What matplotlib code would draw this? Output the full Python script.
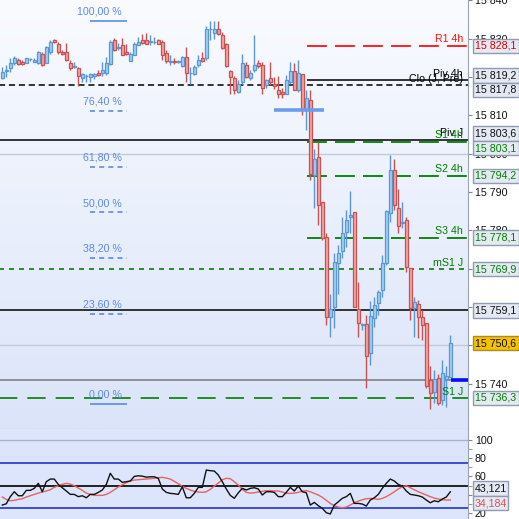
import numpy as np
import matplotlib.pyplot as plt
import matplotlib.transforms as mtransforms
from matplotlib.colors import LinearSegmentedColormap
from matplotlib.patches import Rectangle
from matplotlib.ticker import FuncFormatter, FixedLocator

plt.rcParams['font.family'] = ['Liberation Sans', 'DejaVu Sans']

# --- candles (open, high, low, close) ---
opens = [15819.8, 15821.5, 15822.2, 15823.5, 15824.3, 15824.0, 15823.7, 15824.6, 15824.0, 15823.5,
         15826.1, 15823.7, 15826.5, 15829.7, 15828.7, 15826.5, 15826.5, 15823.7, 15822.6, 15822.2,
         15819.8, 15820.2, 15820.0, 15820.2, 15821.1, 15821.0, 15821.1, 15823.3, 15829.7, 15827.6,
         15828.2, 15826.5, 15824.1, 15825.8, 15828.2, 15829.7, 15829.7, 15829.1, 15829.0, 15829.7,
         15829.1, 15826.3, 15823.9, 15824.1, 15823.9, 15822.8, 15825.2, 15820.9, 15820.7, 15823.0,
         15824.8, 15824.8, 15832.4, 15831.5, 15832.6, 15830.8, 15828.7, 15821.5, 15819.8, 15816.1,
         15818.7, 15823.2, 15819.7, 15821.7, 15823.7, 15823.2, 15817.8, 15819.8, 15818.1, 15816.7,
         15816.1, 15815.6, 15818.7, 15821.5, 15816.5, 15820.7, 15811.7, 15814.1, 15794.4, 15799.1,
         15787.3, 15778.2, 15757.3, 15759.9, 15771.4, 15774.7, 15779.6, 15783.4, 15784.7, 15759.5,
         15755.3, 15755.6, 15747.9, 15757.1, 15761.0, 15764.4, 15771.4, 15784.4, 15795.7, 15785.9,
         15781.8, 15782.7, 15770.1, 15759.7, 15760.8, 15757.5, 15755.8, 15741.0, 15737.9, 15741.6,
         15735.8, 15741.2, 15741.7]
highs = [15822.6, 15823.0, 15824.8, 15825.4, 15824.8, 15824.5, 15825.0, 15825.0, 15824.8, 15826.8,
         15826.5, 15828.0, 15829.5, 15830.0, 15829.1, 15826.9, 15828.8, 15824.3, 15823.9, 15822.6,
         15820.9, 15820.7, 15820.9, 15820.9, 15821.7, 15823.9, 15825.2, 15829.5, 15830.1, 15828.8,
         15830.2, 15828.7, 15826.5, 15829.1, 15830.4, 15831.1, 15831.4, 15830.8, 15830.4, 15830.0,
         15829.7, 15826.9, 15825.6, 15824.8, 15824.3, 15825.4, 15827.8, 15822.6, 15823.0, 15825.6,
         15826.5, 15833.4, 15834.7, 15834.6, 15834.7, 15831.7, 15828.8, 15821.7, 15820.2, 15819.1,
         15825.9, 15823.9, 15821.7, 15830.8, 15824.3, 15823.9, 15819.5, 15823.9, 15820.0, 15820.2,
         15817.2, 15820.4, 15823.9, 15823.5, 15824.3, 15820.7, 15816.5, 15816.5, 15801.1, 15803.0,
         15787.3, 15779.2, 15763.4, 15774.0, 15776.1, 15783.5, 15785.3, 15790.2, 15784.7, 15766.4,
         15755.8, 15757.9, 15761.6, 15762.7, 15764.4, 15773.5, 15785.3, 15799.6, 15798.7, 15790.9,
         15787.4, 15783.5, 15770.1, 15762.7, 15761.8, 15759.2, 15755.8, 15744.5, 15743.6, 15742.6,
         15746.2, 15744.5, 15752.7]
lows = [15819.5, 15820.0, 15821.3, 15823.0, 15823.0, 15823.0, 15823.7, 15824.1, 15823.9, 15823.3,
        15822.8, 15823.5, 15826.1, 15828.8, 15826.1, 15825.6, 15824.1, 15821.7, 15822.2, 15817.6,
        15818.7, 15818.7, 15818.7, 15819.5, 15820.2, 15820.2, 15820.4, 15823.0, 15826.7, 15826.9,
        15825.6, 15825.6, 15824.1, 15825.6, 15828.2, 15828.7, 15828.7, 15828.2, 15828.7, 15828.5,
        15824.3, 15823.5, 15823.0, 15823.3, 15823.5, 15822.6, 15818.7, 15818.2, 15820.4, 15822.6,
        15823.9, 15824.5, 15829.5, 15829.8, 15830.8, 15827.4, 15822.6, 15815.5, 15815.5, 15815.8,
        15818.2, 15819.8, 15819.3, 15821.3, 15822.2, 15815.6, 15817.2, 15817.8, 15816.9, 15814.6,
        15814.6, 15815.5, 15818.2, 15816.5, 15816.1, 15810.0, 15806.1, 15793.1, 15785.7, 15781.4,
        15777.4, 15755.3, 15752.3, 15754.5, 15763.4, 15772.7, 15775.7, 15779.2, 15759.9, 15752.3,
        15754.0, 15739.0, 15744.9, 15754.9, 15758.0, 15762.6, 15771.0, 15782.2, 15785.3, 15779.3,
        15780.5, 15769.2, 15756.6, 15752.3, 15751.9, 15751.4, 15738.9, 15733.4, 15734.9, 15734.5,
        15734.5, 15734.0, 15741.7]
closes = [15821.3, 15821.7, 15823.7, 15824.8, 15823.3, 15823.3, 15824.8, 15824.6, 15824.5, 15826.5,
          15823.2, 15827.8, 15829.1, 15829.1, 15826.5, 15826.1, 15824.3, 15822.2, 15822.6, 15820.2,
          15820.7, 15820.2, 15820.7, 15820.7, 15820.6, 15821.7, 15823.7, 15829.1, 15827.1, 15827.8,
          15825.8, 15825.9, 15826.1, 15828.7, 15829.1, 15828.8, 15828.7, 15829.1, 15829.2, 15828.7,
          15825.8, 15824.1, 15823.9, 15823.9, 15824.0, 15825.2, 15821.1, 15821.0, 15822.6, 15824.3,
          15824.1, 15832.6, 15832.4, 15832.6, 15831.3, 15827.6, 15822.8, 15820.0, 15816.7, 15818.2,
          15823.7, 15820.0, 15821.1, 15823.2, 15822.8, 15817.2, 15819.3, 15818.7, 15817.6, 15815.6,
          15815.6, 15819.3, 15821.5, 15816.7, 15821.1, 15811.6, 15814.6, 15794.8, 15798.7, 15786.7,
          15778.0, 15757.3, 15759.5, 15771.8, 15774.2, 15779.2, 15782.8, 15784.1, 15759.9, 15755.8,
          15755.3, 15747.3, 15757.7, 15760.5, 15764.0, 15771.4, 15785.0, 15795.7, 15786.6, 15781.1,
          15782.2, 15770.5, 15759.7, 15761.2, 15757.5, 15755.3, 15739.4, 15737.7, 15741.2, 15735.1,
          15742.9, 15742.0, 15750.6]

# --- RSI and its signal line ---
rsi = [28.6, 30.0, 37.8, 43.2, 38.8, 38.8, 44.7, 44.7, 46.9, 52.4,
       43.2, 54.2, 57.1, 57.1, 51.2, 47.6, 44.0, 40.3, 40.3, 37.8,
       38.8, 36.6, 40.3, 40.3, 42.5, 45.1, 51.2, 63.4, 57.1, 57.1,
       53.5, 54.2, 55.0, 60.0, 60.7, 60.3, 59.2, 59.6, 59.6, 57.9,
       46.2, 42.5, 41.4, 41.0, 40.3, 48.7, 36.6, 36.6, 41.4, 48.0,
       48.0, 67.0, 66.3, 65.9, 61.5, 54.2, 46.2, 39.2, 36.0, 42.0,
       46.9, 45.1, 46.9, 47.6, 46.2, 39.6, 43.2, 43.2, 42.5, 37.8,
       37.8, 42.5, 48.0, 44.0, 49.4, 43.2, 42.1, 28.6, 31.5, 27.9,
       25.0, 20.2, 18.8, 28.6, 32.2, 36.0, 37.8, 41.4, 30.4, 30.4,
       29.7, 27.5, 34.1, 36.6, 40.3, 46.9, 52.4, 57.1, 55.0, 51.2,
       49.4, 44.0, 40.3, 39.6, 38.8, 37.4, 34.1, 31.1, 33.3, 32.2,
       35.2, 37.4, 43.121]
rsi_signal = [37.4, 34.8, 33.3, 33.7, 34.8, 35.5, 37.4, 38.8, 40.3, 41.7,
              42.9, 44.0, 45.4, 48.0, 49.8, 51.3, 52.4, 51.6, 49.8, 47.3,
              44.7, 41.7, 40.3, 39.2, 39.2, 39.2, 40.3, 42.5, 45.4, 48.4,
              50.9, 53.1, 55.0, 56.0, 56.4, 56.8, 57.1, 57.5, 57.9, 58.6,
              59.0, 58.2, 57.1, 54.6, 52.0, 49.1, 46.9, 45.1, 43.6, 42.9,
              42.5, 43.2, 45.8, 49.4, 52.7, 56.4, 57.9, 57.5, 54.2, 50.5,
              45.8, 42.5, 41.7, 42.1, 42.9, 43.6, 44.4, 44.4, 44.0, 44.0,
              42.9, 41.4, 41.4, 41.7, 42.5, 44.0, 44.4, 43.2, 41.4, 39.6,
              37.1, 33.8, 30.4, 27.9, 26.4, 25.7, 26.4, 28.6, 31.1, 33.0,
              34.4, 35.5, 35.9, 35.5, 34.8, 35.9, 37.8, 40.3, 43.2, 46.2,
              48.7, 49.8, 47.6, 45.4, 43.2, 41.4, 39.6, 37.8, 36.3, 35.2,
              34.4, 34.1, 34.184]
rsi_levels = [75, 50, 25]

# --- pivot / support / resistance levels ---
level_names = ["R1 4h", "Piv 4h", "Clo (J, Pré)", "Piv J", "S1 4h", "S2 4h", "S3 4h", "mS1 J", "", "S1 J"]
level_values = [15828.1, 15819.2, 15817.8, 15803.6, 15803.1, 15794.2, 15778.1, 15769.9, 15759.1, 15736.3]
last_price = 15750.6
marker_level = 15741.0
fib_high = 15834.7
fib_low = 15734.7
fib_pcts = [100.0, 76.4, 61.8, 50.0, 38.2, 23.6, 0.0]
grid_levels = [15750, 15800]
price_ticks = [15740, 15750, 15760, 15770, 15780, 15790, 15800, 15810, 15820, 15830, 15840]

W = 519.0
PLOT_W = 468.0
PX_PER_PT = 3.84      # price axis: pixels per point
PX_PER_RSI = 0.912    # rsi axis: pixels per unit
X0 = 2.3              # pixel centre of first candle
STEP = 4.0            # pixels between candles
BOX_PX = 14.5
FS = 7.7


def k_of(px):
    return (px - X0) / STEP


def fmt_price(v, pos=None):
    return f"{int(round(v)):,}".replace(",", " ")


def fmt_value(v):
    return f"{v:,.1f}".replace(",", " ").replace(".", ",")


def spread(values, h):
    """Schiebt zu nahe Boxen auseinander (wie im Original)."""
    vals = np.array(values, dtype=float)
    order = np.argsort(-vals)
    pos = vals[order].copy()
    for _ in range(10):
        for i in range(len(pos) - 1):
            if pos[i] - pos[i + 1] < h:
                mid = (pos[i] + pos[i + 1]) / 2
                pos[i], pos[i + 1] = mid + h / 2, mid - h / 2
    out = np.empty_like(pos)
    out[order] = pos
    return out


def setup_axes(fig):
    ax = fig.add_axes([0, 90 / W, PLOT_W / W, 429 / W])
    ax2 = fig.add_axes([0, 0, PLOT_W / W, 90 / W])
    for a in (ax, ax2):
        for s in ("top", "left"):
            a.spines[s].set_visible(False)
        a.spines["right"].set_color("#9aa3b2")
        a.set_xticks([])
        a.yaxis.tick_right()
        a.tick_params(axis="y", direction="out", length=3, width=0.8,
                      color="#7f8898", labelsize=FS, pad=2, labelcolor="#111111")
    ax.spines["bottom"].set_color("#a9b4c6")
    ax2.spines["bottom"].set_visible(False)
    return ax, ax2


def draw_background(ax, top, bottom):
    cmap = LinearSegmentedColormap.from_list("bg", [top, bottom])
    ax.imshow(np.linspace(0, 1, 256).reshape(-1, 1), cmap=cmap, aspect="auto",
              extent=[0, 1, 0, 1], transform=ax.transAxes, zorder=0)


def draw_candles(ax):
    x = np.arange(len(opens))
    o, h, l, c = map(np.array, (opens, highs, lows, closes))
    up = c >= o
    wick = np.where(up, "#5b97d3", "#c95252")
    face = np.where(up, "#9fd0f5", "#f7a3a3")
    ax.vlines(x, l, h, colors=wick, lw=1.0, zorder=3)
    body = np.maximum(np.abs(c - o), 0.15)
    ax.bar(x, body, bottom=np.minimum(o, c), width=0.88, color=face,
           edgecolor=wick, lw=0.9, zorder=4)


def draw_levels(ax):
    end = k_of(PLOT_W) + 1
    start4h = k_of(306.7)
    long_dash = (0, (11, 4.5))
    styles = {
        "R1 4h": ("#ff1010", long_dash, start4h, 1.3),
        "Piv 4h": ("#000000", "-", start4h, 1.1),
        "Clo (J, Pré)": ("#000000", (0, (4, 2.5)), -1, 1.1),
        "Piv J": ("#000000", "-", -1, 1.1),
        "S1 4h": ("#008000", long_dash, start4h, 1.3),
        "S2 4h": ("#008000", long_dash, start4h, 1.3),
        "S3 4h": ("#008000", long_dash, start4h, 1.3),
        "mS1 J": ("#008000", (0, (3, 3)), -1, 1.2),
        "": ("#000000", "-", -1, 1.1),
        "S1 J": ("#008000", (0, (11, 6)), -1, 1.2),
    }
    for gl in grid_levels:
        ax.hlines(gl, -1, end, color="#c3cad8", lw=1.0, zorder=1)
    ax.hlines(marker_level, -1, end, color="#8a8a8a", lw=1.3, zorder=2)
    ax.hlines(marker_level, k_of(451), end, color="#0010ff", lw=2.6, zorder=5)
    lab_x = k_of(463)
    for name, val in zip(level_names, level_values):
        color, ls, x0, lw = styles[name]
        ax.hlines(val, x0, end, color=color, linestyles=ls, lw=lw, zorder=2)
        if name:
            ax.annotate(name, (lab_x, val), xytext=(0, 1), textcoords="offset points",
                        ha="right", va="bottom", fontsize=FS, color=color, zorder=6)


def draw_fib(ax):
    x0, x1 = k_of(90), k_of(127)
    blue = "#5d8ae6"
    for p in fib_pcts:
        val = fib_low + (fib_high - fib_low) * p / 100
        ls = "-" if p in (0.0, 100.0) else (0, (3, 2.5))
        ax.hlines(val, x0, x1, color=blue, lw=1.2, linestyles=ls, zorder=2)
        ax.annotate(f"{p:.2f} %".replace(".", ","), (k_of(122), val), xytext=(0, 3),
                    textcoords="offset points", ha="right", va="bottom",
                    fontsize=FS, color=blue, zorder=6)
    # kurzer Marker beim Ausbruch
    ax.hlines(15811.3, k_of(274), k_of(324), color="#6b9cec", lw=2.6, zorder=5)


def value_box(ax, y, text, px_per_unit, right=W, fc="#e4e9f3", ec="#8e9bb0", tc="#111111"):
    trans = mtransforms.blended_transform_factory(ax.transAxes, ax.transData)
    h = BOX_PX / px_per_unit
    x0 = 472.7 / PLOT_W
    ax.add_patch(Rectangle((x0, y - h / 2), (right - 472.7) / PLOT_W, h, transform=trans,
                           fc=fc, ec=ec, lw=1.0, clip_on=False, zorder=8))
    ax.text(475.0 / PLOT_W, y, text, transform=trans, ha="left", va="center",
            fontsize=FS, color=tc, clip_on=False, zorder=9)


fig = plt.figure(figsize=(5.19, 5.19), dpi=100)
fig.patch.set_facecolor("white")
ax, ax2 = setup_axes(fig)

draw_background(ax, "#f9fbff", "#dbe4f9")
draw_candles(ax)
draw_levels(ax)
draw_fib(ax)

ax.set_xlim(k_of(0), k_of(PLOT_W))
ax.set_ylim(15728.2, 15840.05)
ax.yaxis.set_major_locator(FixedLocator(price_ticks))
ax.yaxis.set_major_formatter(FuncFormatter(fmt_price))

box_colors = {"R1 4h": "#e00000", "S1 4h": "#008000", "S2 4h": "#008000", "S3 4h": "#008000",
              "mS1 J": "#008000", "S1 J": "#008000"}
all_vals = level_values + [last_price]
box_pos = spread(all_vals, BOX_PX / PX_PER_PT)
for name, val, pos in zip(level_names, level_values, box_pos):
    value_box(ax, pos, fmt_value(val), PX_PER_PT, tc=box_colors.get(name, "#111111"))
value_box(ax, box_pos[-1], fmt_value(last_price), PX_PER_PT, fc="#f6c200", ec="#b08a20")

# --- RSI panel ---
ax2.set_facecolor("#dce5fc")
xr = np.arange(len(rsi))
ax2.hlines(100, -1, k_of(PLOT_W) + 1, color="#aab3c6", lw=1.0, zorder=1)
for lv in rsi_levels:
    ax2.hlines(lv, -1, k_of(PLOT_W) + 1, color="#000000" if lv == 50 else "#2233cc",
               lw=1.2, zorder=1)
ax2.plot(xr, rsi_signal, color="#e8625e", lw=1.0, zorder=3)
ax2.plot(xr, rsi, color="#111111", lw=1.0, zorder=4)
ax2.set_xlim(k_of(0), k_of(PLOT_W))
ax2.set_ylim(13.3, 112.0)
ax2.yaxis.set_major_locator(FixedLocator([20, 40, 60, 80, 100]))
ax2.yaxis.set_minor_locator(FixedLocator([30, 50, 70, 90]))
ax2.tick_params(axis="y", which="minor", direction="out", length=3, color="#7f8898")
ax2.yaxis.set_major_formatter(FuncFormatter(lambda v, p: f"{int(v)}"))
for t in ax2.yaxis.get_major_ticks():
    if t.get_loc() == 100:
        t.label2.set_fontweight("bold")
        t.label2.set_fontsize(9.5)

rsi_pos = spread([rsi[-1], rsi_signal[-1]], BOX_PX / PX_PER_RSI)
value_box(ax2, rsi_pos[0], f"{rsi[-1]:.3f}".replace(".", ","), PX_PER_RSI, right=508.5)
value_box(ax2, rsi_pos[1], f"{rsi_signal[-1]:.3f}".replace(".", ","), PX_PER_RSI,
          right=508.5, tc="#e05050")

fig.savefig("out.png", dpi=100)
